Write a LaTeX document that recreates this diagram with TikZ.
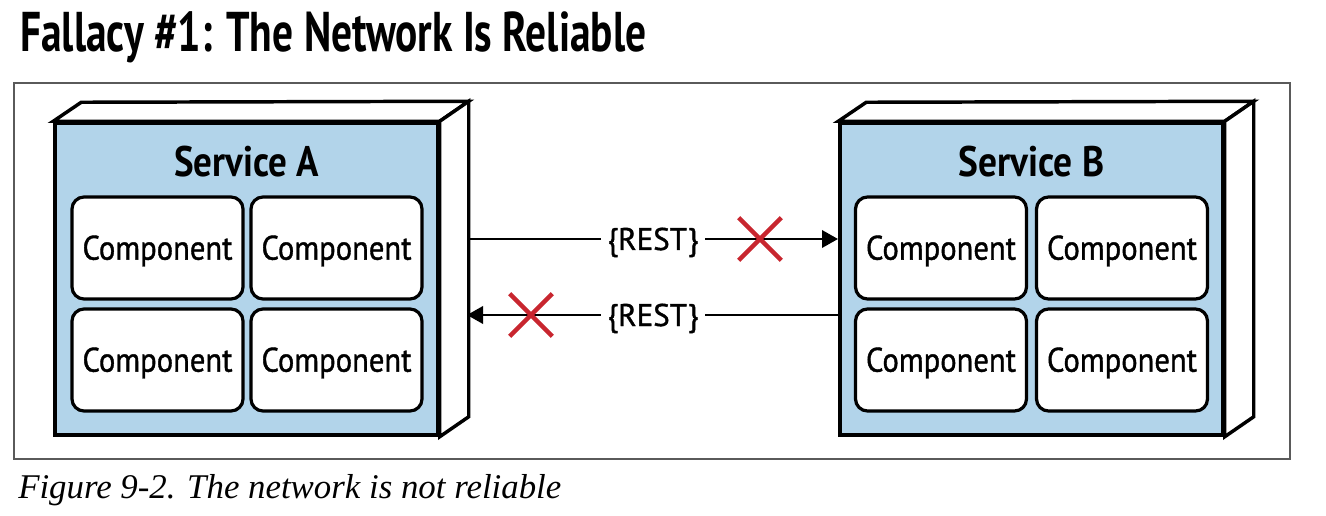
\documentclass[tikz,border=0pt]{standalone}
\usepackage{graphicx}
\usepackage{fontspec}
\setmainfont{Liberation Serif}
\newfontfamily\ptsans{PT Sans}
\newfontfamily\ptsansmed[FakeBold=1.2]{PT Sans}
\usetikzlibrary{arrows.meta,shapes.misc,calc}
\definecolor{svcblue}{RGB}{178,212,234}
\definecolor{xred}{RGB}{200,38,47}
\definecolor{framegray}{RGB}{90,90,90}
\newlength\fitlen
\newcommand\fitto[2]{\settowidth\fitlen{#2}\pgfmathsetmacro\fitfac{#1*0.75/\fitlen}\scalebox{\fitfac}[1]{#2}}
\begin{document}
\begin{tikzpicture}[x=0.75pt,y=-0.75pt,
  svc/.style={draw, line width=2.6pt, fill=svcblue, minimum width=287.25pt, minimum height=234pt, inner sep=0pt},
  face/.style={draw, line width=2.6pt, fill=white, line join=miter},
  comp/.style={draw, line width=2.4pt, fill=white, rounded corners=9pt, minimum width=128.25pt, minimum height=76.5pt, inner sep=0pt, text height=17.5pt, text depth=0pt, font=\ptsansmed\fontsize{25.5}{30}\selectfont},
  svclabel/.style={inner sep=0pt, anchor=base, font=\ptsans\bfseries\fontsize{32}{38}\selectfont},
  rest/.style={fill=white, inner xsep=5pt, inner ysep=0pt, text height=16.5pt, text depth=0pt, font=\ptsansmed\fontsize{23.5}{28}\selectfont},
  flow/.style={line width=1.9pt, -{Triangle[length=12pt,width=13pt]}},
  xmark/.style={cross out, draw=xred, line width=3.4pt, minimum size=28.5pt, inner sep=0pt}]
\useasboundingbox (0,0) rectangle (1326,516);

% title
\node[anchor=base west, inner sep=0pt, font=\ptsans\bfseries\fontsize{42}{50}\selectfont] (title) at (20,52) {\fitto{626}{Fallacy \#1: The Network Is Reliable}};

% frame
\node[draw=framegray, line width=1.1pt, minimum width=957pt, minimum height=282pt, inner sep=0pt] (frame) at (652,271) {};

% service A
\node[svc] (A) at (246.5,279) {};
\draw[face] (A.north west) -- ++(28,-19) -- ($(A.north east)+(29,-20)$) -- (A.north east) -- cycle;
\draw[face] (A.north east) -- ++(29,-20) -- ($(A.south east)+(29,-20)$) -- (A.south east) -- cycle;
\node[svclabel] (Alab) at (246.5,177) {\fitto{145}{Service A}};
\node[comp] (A11) at (157.5,248) {\fitto{150}{Component}};
\node[comp] (A12) at (336.5,248) {\fitto{150}{Component}};
\node[comp] (A21) at (157.5,360) {\fitto{150}{Component}};
\node[comp] (A22) at (336.5,360) {\fitto{150}{Component}};

% service B
\node[svc] (B) at (1031.5,279) {};
\draw[face] (B.north west) -- ++(28,-19) -- ($(B.north east)+(29,-20)$) -- (B.north east) -- cycle;
\draw[face] (B.north east) -- ++(29,-20) -- ($(B.south east)+(29,-20)$) -- (B.south east) -- cycle;
\node[svclabel] (Blab) at (1031.5,177) {\fitto{146}{Service B}};
\node[comp] (B11) at (941,248) {\fitto{150}{Component}};
\node[comp] (B12) at (1122,248) {\fitto{150}{Component}};
\node[comp] (B21) at (941,360) {\fitto{150}{Component}};
\node[comp] (B22) at (1122,360) {\fitto{150}{Component}};

% connectors
\coordinate (a1) at (467,239);
\coordinate (a2) at (467,315);
\coordinate (b1) at (838,239);
\coordinate (b2) at (840,315);
\draw[flow] (a1) -- (b1);
\draw[flow] (b2) -- (a2);
\node[rest] (r1) at (653,239) {\fitto{91}{\{REST\}}};
\node[rest] (r2) at (653,315) {\fitto{91}{\{REST\}}};
\node[xmark] (x1) at (760,239) {};
\node[xmark] (x2) at (531,315) {};

% caption
\node[anchor=base west, inner sep=0pt, font=\itshape\fontsize{26}{30}\selectfont] (cap) at (18,498) {\fitto{543}{Figure 9-2. The network is not reliable}};
\end{tikzpicture}
\end{document}
